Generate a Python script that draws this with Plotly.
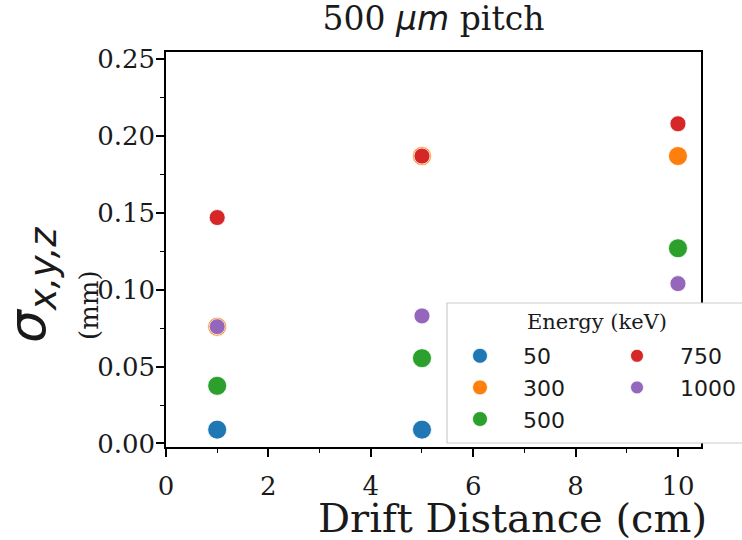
import plotly.graph_objects as go

drift_cm = [1, 5, 10]
energies = ["50", "300", "500", "750", "1000"]
sigma_50 = [0.009, 0.009, 0.010]
sigma_300 = [0.076, 0.187, 0.187]
sigma_500 = [0.0375, 0.0555, 0.127]
sigma_750 = [0.147, 0.187, 0.208]
sigma_1000 = [0.076, 0.083, 0.104]
series = [sigma_50, sigma_300, sigma_500, sigma_750, sigma_1000]
colors = ["#1f77b4", "#ff7f0e", "#2ca02c", "#d62728", "#9467bd"]
point_sizes = [19, 19, 19, 16, 16]
legend_sizes = [15, 15, 15, 13, 13]
legend_names = ["legend", "legend", "legend", "legend2", "legend2"]

x_ticks = [0, 2, 4, 6, 8, 10]
y_ticks = [0.00, 0.05, 0.10, 0.15, 0.20, 0.25]

SERIF = "DejaVu Serif"
SANS = "DejaVu Sans"
INK = "#1a1a1a"

fig = go.Figure()
for name, vals, col, sz in zip(energies, series, colors, point_sizes):
    fig.add_trace(go.Scatter(
        x=drift_cm, y=vals, mode="markers", showlegend=False, name=name,
        marker=dict(color=col, size=sz, line=dict(color="white", width=0.8)),
    ))
for name, col, lsz, lg in zip(energies, colors, legend_sizes, legend_names):
    fig.add_trace(go.Scatter(
        x=[None], y=[None], mode="markers", name=name, legend=lg,
        marker=dict(color=col, size=lsz, line=dict(color="white", width=0.8)),
    ))

L, R, T, B = 166, 41, 52, 93
W, H = 742, 540
pw, ph = W - L - R, H - T - B


def px(xp):
    return (xp - L) / pw


def py(yp):
    return (H - B - yp) / ph


axis_common = dict(
    showline=True, mirror=True, linecolor="black", linewidth=1.5,
    ticks="outside", ticklen=8, tickwidth=1.5, tickcolor="black",
    showgrid=False, zeroline=False, automargin=False,
    tickfont=dict(family=SERIF, size=26, color=INK),
)

fig.update_layout(
    width=W, height=H,
    margin=dict(l=L, r=R, t=T, b=B, autoexpand=False),
    plot_bgcolor="white", paper_bgcolor="white",
    xaxis=dict(range=[0, 10.45], tickvals=x_ticks,
               ticktext=[str(v) for v in x_ticks], ticklabelstandoff=7,
               minor=dict(dtick=1, ticklen=4, tickwidth=1.2, tickcolor="black", ticks="outside"),
               **axis_common),
    yaxis=dict(range=[-0.0023, 0.2547], tickvals=y_ticks,
               ticktext=["%.2f" % v for v in y_ticks], ticklabelstandoff=-4,
               minor=dict(dtick=0.025, ticklen=4, tickwidth=1.2, tickcolor="black", ticks="outside"),
               **axis_common),
    title=dict(text='500 <span style="font-family:DejaVu Sans"><i>μm</i></span> pitch',
               x=433.5 / W, xanchor="center",
               y=1 - 18 / H, yanchor="middle",
               font=dict(family=SERIF, size=33, color=INK)),
    legend=dict(x=px(437), y=py(335), xanchor="left", yanchor="top",
                bgcolor="rgba(0,0,0,0)", borderwidth=0, itemwidth=76,
                itemsizing="trace", font=dict(family=SANS, size=22, color=INK)),
    legend2=dict(x=px(594), y=py(335), xanchor="left", yanchor="top",
                 bgcolor="rgba(0,0,0,0)", borderwidth=0, itemwidth=76,
                 itemsizing="trace", font=dict(family=SANS, size=22, color=INK)),
    shapes=[dict(type="rect", xref="paper", yref="paper", layer="above",
                 x0=px(447), x1=px(770), y0=py(443), y1=py(303),
                 line=dict(color="#cccccc", width=1.2), fillcolor="white")],
    annotations=[
        dict(text="Energy (keV)", xref="paper", yref="paper", x=px(597), y=py(322),
             xanchor="center", yanchor="middle", showarrow=False,
             font=dict(family=SERIF, size=21, color=INK)),
        dict(text="Drift Distance (cm)", xref="paper", yref="paper", x=px(512), y=py(518),
             xanchor="center", yanchor="middle", showarrow=False,
             font=dict(family=SERIF, size=40, color=INK)),
        dict(text="<i>σ</i><sub><i>x,y,z</i></sub>", xref="paper", yref="paper",
             x=px(31), y=py(285), xanchor="center", yanchor="middle", textangle=-90,
             showarrow=False, font=dict(family=SANS, size=52, color=INK)),
        dict(text="(mm)", xref="paper", yref="paper",
             x=px(89), y=py(305), xanchor="center", yanchor="middle", textangle=-90,
             showarrow=False, font=dict(family=SERIF, size=26, color=INK)),
    ],
)

fig.write_html("out.html", config={"displayModeBar": False},
               post_script="document.body.style.margin='0';")
